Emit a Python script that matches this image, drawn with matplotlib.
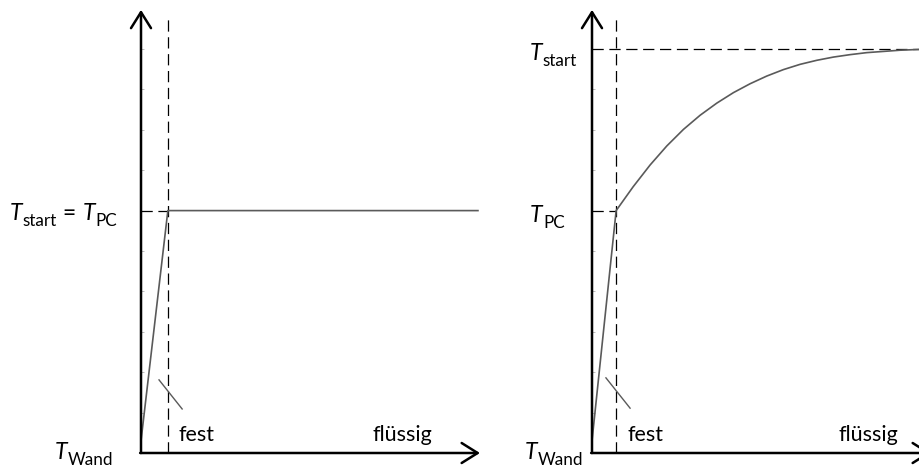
import matplotlib
matplotlib.use("Agg")
import matplotlib.pyplot as plt

plt.rcParams['font.family'] = ['Lato', 'DejaVu Sans']

# temperature levels (one tick = one unit)
T_wand = 0.3
T_pc = 6.0
T_start = 10.0

# left: T_start == T_PC, flat profile in the liquid
left_front = 0.79
left_x = [0.0, left_front, 9.91]
left_T = [T_wand, T_pc, T_pc]

# right: T_start > T_PC, liquid profile rising towards T_start
right_front = 0.71
right_x = [0.0, right_front, 1.21, 1.71, 2.20, 2.69, 3.18, 3.67, 4.16, 4.65,
           5.14, 5.63, 6.12, 6.61, 7.10, 7.59, 8.08, 8.57, 9.06, 9.65]
right_T = [T_wand, T_pc, 6.59, 7.13, 7.60, 8.01, 8.36, 8.66, 8.92, 9.14,
           9.33, 9.49, 9.62, 9.72, 9.80, 9.86, 9.91, 9.94, 9.97, 9.99]

# little slash across the solid/liquid boundary
left_slash_x, left_slash_y = [0.53, 1.21], [1.81, 1.09]
right_slash_x, right_slash_y = [0.41, 1.12], [1.86, 1.11]

curve_col = '#5a5a5a'
dash = (9, 4.5)

fig = plt.figure(figsize=(9.2, 4.7), dpi=100)
ax1 = fig.add_axes([0, 0, 500 / 920, 1])
ax2 = fig.add_axes([500 / 920, 0, 420 / 920, 1])
ax1.set_xlim(-141 / 34, 359 / 34)
ax2.set_xlim(-92 / 34, 328 / 34)
for ax in (ax1, ax2):
    ax.set_ylim(-17 / 40.4, 453 / 40.4)
    for s in ax.spines.values():
        s.set_visible(False)
    ax.spines['left'].set_position(('data', 0))
    ax.set_xticks([])
    ax.set_yticks(range(1, 11))
    ax.tick_params(axis='y', direction='in', length=2.5, width=0.6,
                   color='#b0b0b0', labelleft=False)
    ax.patch.set_visible(False)


def axis_arrows(ax, xend, yend):
    hl = dict(arrowstyle='->,head_length=1.15,head_width=0.72', lw=1.8,
              color='black', shrinkA=0, shrinkB=0, mutation_scale=10)
    ax.annotate('', xy=(0, yend), xytext=(0, 0), arrowprops=hl,
                annotation_clip=False)
    ax.annotate('', xy=(xend, 0), xytext=(-0.025, 0), arrowprops=hl,
                annotation_clip=False)


def sym_label(ax, x, y, parts):
    # parts: (text, is_subscript); pieces chained left to right on one baseline
    prev = None
    for txt, sub in parts:
        kw = dict(fontsize=12.3 if sub else 16.5,
                  style='normal' if (sub or txt.strip() == '=') else 'italic',
                  va='baseline', ha='left', color='black')
        dy = -4.3 if sub else 0
        if prev is None:
            prev = ax.text(x, y, txt, **kw)
        else:
            prev = ax.annotate(txt, xy=(1, y), xycoords=(prev, 'data'),
                               xytext=(0.2, dy), textcoords='offset points',
                               annotation_clip=False, **kw)


# left panel
axis_arrows(ax1, 9.97, 10.97)
ax1.plot([left_front, left_front], [0, 10.8], color='black', lw=0.9,
         dashes=dash)
ax1.plot([0, left_front], [T_pc, T_pc], color='black', lw=0.9, dashes=dash)
ax1.plot(left_x, left_T, color=curve_col, lw=1.2)
ax1.plot(left_slash_x, left_slash_y, color=curve_col, lw=1.0)
ax1.text(1.09, 0.30, 'fest', fontsize=15.5, va='baseline')
ax1.text(6.82, 0.30, 'flüssig', fontsize=15.5, va='baseline')
sym_label(ax1, -3.85, 5.77, [('T', False), ('start', True), (' = ', False),
                             ('T', False), ('PC', True)])
sym_label(ax1, -2.53, -0.15, [('T', False), ('Wand', True)])

# right panel
axis_arrows(ax2, 9.97, 10.97)
ax2.plot([right_front, right_front], [0, 10.84], color='black', lw=0.9,
         dashes=dash)
ax2.plot([0, right_front], [T_pc, T_pc], color='black', lw=0.9, dashes=dash)
ax2.plot([0, 9.8], [T_start, T_start], color='black', lw=0.9, dashes=dash)
ax2.plot(right_x, right_T, color=curve_col, lw=1.2)
ax2.plot(right_slash_x, right_slash_y, color=curve_col, lw=1.0)
ax2.text(1.03, 0.30, 'fest', fontsize=15.5, va='baseline')
ax2.text(7.24, 0.30, 'flüssig', fontsize=15.5, va='baseline')
sym_label(ax2, -1.82, 9.73, [('T', False), ('start', True)])
sym_label(ax2, -1.82, 5.72, [('T', False), ('PC', True)])
sym_label(ax2, -1.97, -0.15, [('T', False), ('Wand', True)])

fig.savefig('out.png', dpi=100, facecolor='white')
